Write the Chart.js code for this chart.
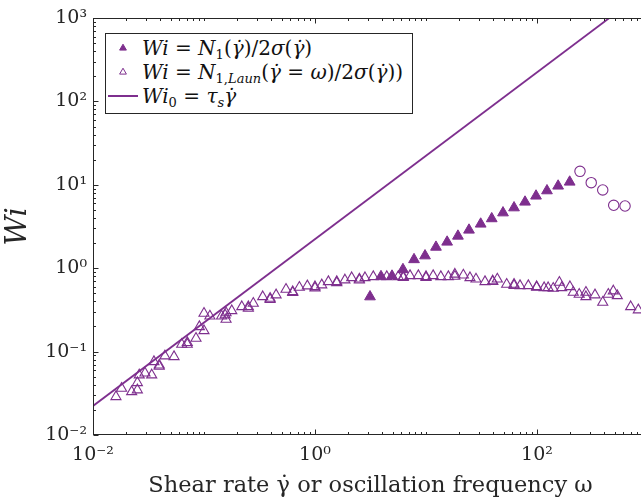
<!DOCTYPE html>
<html>
<head>
<meta charset="utf-8">
<script src="https://cdn.jsdelivr.net/npm/chart.js@4.4.0/dist/chart.umd.min.js"></script>
<style>
html,body{margin:0;padding:0;background:#fff;overflow:hidden;width:641px;height:501px;}
#wrap{position:absolute;left:0;top:0;width:660px;height:501px;}
#legend{position:absolute;left:105px;top:33px;width:306px;height:77px;padding-top:2px;border:1px solid #262626;background:#fff;
  font-family:'DejaVu Serif',serif;font-size:20px;color:#111;}
.row{height:24px;display:flex;align-items:center;white-space:nowrap;}
.mk{width:36px;height:24px;flex:none;}
.txt{line-height:24px;}
.txt i{font-style:italic;}
.txt sub{font-size:13px;vertical-align:-4px;line-height:0;}
.txt sub i{font-style:italic;}
</style>
</head>
<body>
<div id="wrap"><canvas id="c" width="660" height="501"></canvas></div>
<div id="legend">
  <div class="row"><svg class="mk" viewBox="0 0 36 24"><polygon points="17,8.2 20.4,14.1 13.6,14.1" fill="#7E2F8E" stroke="#7E2F8E" stroke-width="1"/></svg>
    <span class="txt"><i>Wi</i> = <i>N</i><sub>1</sub>(<i>γ̇</i>)/2<i>σ</i>(<i>γ̇</i>)</span></div>
  <div class="row"><svg class="mk" viewBox="0 0 36 24"><polygon points="17,8.2 20.4,14.1 13.6,14.1" fill="none" stroke="#7E2F8E" stroke-width="1"/></svg>
    <span class="txt"><i>Wi</i> = <i>N</i><sub>1,<i>Laun</i></sub>(<i>γ̇</i> = <i>ω</i>)/2<i>σ</i>(<i>γ̇</i>))</span></div>
  <div class="row"><svg class="mk" viewBox="0 0 36 24"><line x1="2" y1="12" x2="32" y2="12" stroke="#7E2F8E" stroke-width="2"/></svg>
    <span class="txt"><i>Wi</i><sub>0</sub> = <i>τ</i><sub><i>s</i></sub><i>γ̇</i></span></div>
</div>
<script>
// ---- data ----
const filledX = [3.13, 3.93, 4.94, 6.20, 7.80, 9.80, 12.3, 15.5, 19.4, 24.4, 31.1, 39.1, 49.4, 62.1, 78.0, 98.0, 123, 155, 197];
const filledY = [0.455, 0.795, 0.806, 0.965, 1.27, 1.41, 1.79, 2.06, 2.43, 2.87, 3.39, 3.93, 4.62, 5.31, 6.22, 7.35, 8.50, 9.68, 10.8];

const circleX = [244, 308, 391, 491, 621];
const circleY = [14.5, 10.6, 8.67, 5.68, 5.57];

const openX = [0.0161, 0.0181, 0.0223, 0.0251, 0.0251, 0.0261, 0.0294, 0.0338, 0.0354, 0.0395, 0.0395, 0.0445, 0.0537,
  0.0630, 0.0707, 0.0707, 0.0847, 0.0908, 0.100, 0.100, 0.113, 0.144, 0.155, 0.158, 0.158, 0.178, 0.219, 0.251, 0.251,
  0.278, 0.338, 0.394, 0.394, 0.446, 0.548, 0.630, 0.630, 0.723, 0.853, 1.00, 1.00, 1.15, 1.32, 1.57, 1.57, 1.86, 2.14,
  2.51, 2.51, 2.82, 3.35, 4.43, 5.62, 6.24, 6.24, 7.18, 8.53, 10.0, 10.0, 11.6, 13.6, 15.9, 18.2, 18.2, 21.7, 24.9, 28.2,
  34.0, 39.9, 39.9, 43.9, 53.3, 62.1, 62.1, 70.3, 83.5, 99.3, 99.3, 116, 126, 140, 159, 167, 198, 212, 240, 276, 276,
  333, 391, 439, 487, 529, 698, 818];
const openY = [0.0288, 0.0363, 0.0330, 0.0347, 0.0424, 0.0524, 0.0553, 0.0524, 0.0757, 0.0690, 0.0665, 0.0885, 0.0869,
  0.122, 0.128, 0.122, 0.144, 0.199, 0.178, 0.288, 0.267, 0.267, 0.275, 0.244, 0.292, 0.309, 0.345, 0.345, 0.330,
  0.379, 0.455, 0.435, 0.420, 0.478, 0.558, 0.522, 0.510, 0.590, 0.613, 0.600, 0.580, 0.630, 0.689, 0.689, 0.670, 0.722, 0.769,
  0.741, 0.720, 0.769, 0.791, 0.791, 0.791, 0.791, 0.770, 0.813, 0.813, 0.791, 0.770, 0.813, 0.791, 0.791, 0.846, 0.800, 0.828, 0.769, 0.741,
  0.689, 0.702, 0.690, 0.741, 0.641, 0.641, 0.620, 0.617, 0.617, 0.600, 0.590, 0.583, 0.583, 0.574, 0.678, 0.583, 0.600, 0.514, 0.486, 0.514, 0.455,
  0.478, 0.390, 0.486, 0.533, 0.468, 0.345, 0.316];

// Wi0 = tau_s * gamma_dot reference line end points
const lineX = [0.01, 448];
const lineY = [0.0223, 1000];

// tick labels
const xMajorExps = [-2, 0, 2];
const xMajorLabels = ['10⁻²', '10⁰', '10²'];
const yMajorExps = [-2, -1, 0, 1, 2, 3];
const yMajorLabels = ['10⁻²', '10⁻¹', '10⁰', '10¹', '10²', '10³'];
const xDecades = [-2, -1, 0, 1, 2, 3];
const yDecades = [-2, -1, 0, 1, 2, 3];

const purple = '#7E2F8E';
const axisColor = '#262626';
const serif = "'DejaVu Serif', serif";

function tickValues(decades) {
  const out = [];
  decades.forEach((e, i) => {
    const last = i === decades.length - 1;
    for (let m = 1; m <= (last ? 1 : 9); m++) out.push(Number((m * Math.pow(10, e)).toPrecision(6)));
  });
  return out;
}
function labelFor(v, exps, labels) {
  const e = Math.round(Math.log10(v));
  if (Math.abs(v - Math.pow(10, e)) / Math.pow(10, e) > 1e-6) return '';
  const i = exps.indexOf(e);
  return i >= 0 ? labels[i] : '';
}
function pts(xs, ys) { return xs.map((x, i) => ({ x: x, y: ys[i] })); }

const framePlugin = {
  id: 'frame',
  afterDraw(chart) {
    const { ctx, chartArea: a, scales } = chart;
    const L = Math.round(a.left) + 0.5, R = Math.round(a.right) - 0.5;
    const T = Math.round(a.top) + 0.5, B = Math.round(a.bottom) - 0.5;
    ctx.save();
    ctx.strokeStyle = axisColor;
    ctx.lineWidth = 1;
    ctx.strokeRect(L, T, R - L, B - T);
    ctx.beginPath();
    scales.x.ticks.forEach(t => {
      const p = Math.round(scales.x.getPixelForValue(t.value)) + 0.5;
      const len = t.label ? 5 : 2.5;
      ctx.moveTo(p, B); ctx.lineTo(p, B - len);
      ctx.moveTo(p, T); ctx.lineTo(p, T + len);
    });
    scales.y.ticks.forEach(t => {
      const p = Math.round(scales.y.getPixelForValue(t.value)) + 0.5;
      const len = t.label ? 5 : 2.5;
      ctx.moveTo(L, p); ctx.lineTo(L + len, p);
      ctx.moveTo(R, p); ctx.lineTo(R - len, p);
    });
    ctx.stroke();
    ctx.restore();
  }
};

new Chart(document.getElementById('c'), {
  type: 'scatter',
  data: {
    datasets: [
      { label: 'Wi = N1/2σ', data: pts(filledX, filledY), pointStyle: 'triangle', pointRadius: 6.2,
        backgroundColor: purple, borderColor: purple, borderWidth: 1 },
      { label: 'Wi = N1,Laun/2σ', data: pts(openX, openY), pointStyle: 'triangle', pointRadius: 5.8,
        backgroundColor: 'rgba(0,0,0,0)', borderColor: purple, borderWidth: 1.1 },
      { label: 'circles', data: pts(circleX, circleY), pointStyle: 'circle', pointRadius: 5.2,
        backgroundColor: 'rgba(0,0,0,0)', borderColor: purple, borderWidth: 1.1 },
      { label: 'Wi0', data: pts(lineX, lineY), showLine: true, pointRadius: 0, borderColor: purple,
        borderWidth: 1.8, fill: false }
    ]
  },
  options: {
    responsive: false, animation: false, devicePixelRatio: 1,
    layout: { padding: { top: 18, right: 12, left: 0, bottom: 0 } },
    plugins: { legend: { display: false }, tooltip: { enabled: false } },
    scales: {
      x: {
        type: 'logarithmic', min: 0.01, max: 1000,
        grid: { display: false, drawTicks: false }, border: { display: false },
        afterBuildTicks: s => { s.ticks = tickValues(xDecades).map(v => ({ value: v })); },
        afterFit: s => { s.height = 66; },
        ticks: { autoSkip: false, maxRotation: 0, padding: 9, color: axisColor,
          font: { family: serif, size: 19 }, callback: v => labelFor(v, xMajorExps, xMajorLabels) },
        title: { display: true, text: 'Shear rate γ̇ or oscillation frequency ω', color: axisColor,
          font: { family: serif, size: 22.5 }, padding: { top: 0, bottom: 1 } }
      },
      y: {
        type: 'logarithmic', min: 0.01, max: 1000,
        grid: { display: false, drawTicks: false }, border: { display: false },
        afterBuildTicks: s => { s.ticks = tickValues(yDecades).map(v => ({ value: v })); },
        afterFit: s => { s.width = 93; },
        ticks: { autoSkip: false, padding: 6, color: axisColor,
          font: { family: serif, size: 19 }, callback: v => labelFor(v, yMajorExps, yMajorLabels) },
        title: { display: true, text: 'Wi', color: axisColor,
          font: { family: serif, size: 29, style: 'italic' }, padding: { top: 1, bottom: 0 } }
      }
    }
  },
  plugins: [framePlugin]
});
</script>
</body>
</html>
